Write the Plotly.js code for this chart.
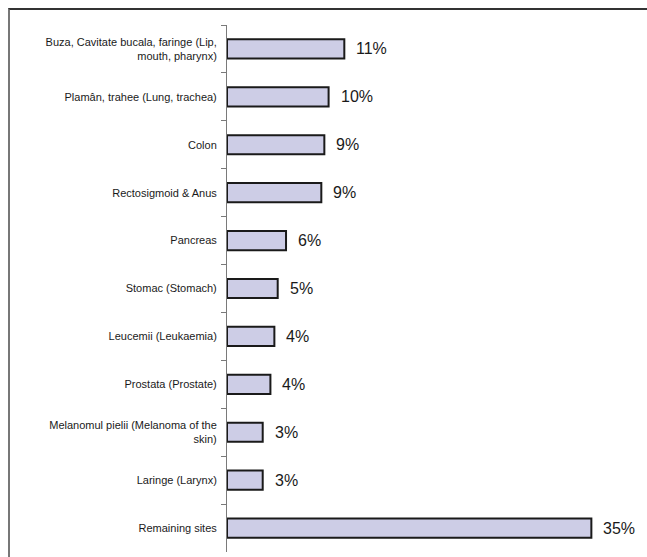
<!DOCTYPE html>
<html>
<head>
<meta charset="utf-8">
<script src="https://cdn.plot.ly/plotly-3.0.1.min.js"></script>
<style>
  html, body { margin: 0; padding: 0; background: #fff; }
  #wrap { position: relative; width: 647px; height: 557px; overflow: hidden; }
  #chart { position: absolute; left: 0; top: 0; width: 647px; height: 557px; }
  #frame { position: absolute; left: 8px; top: 8px; width: 660px; height: 600px;
           border-top: 2px solid #333; border-left: 2px solid #777; pointer-events: none; }
</style>
</head>
<body>
<div id="wrap">
  <div id="chart"></div>
  <div id="frame"></div>
</div>
<script>
const categories = [
  "Buza, Cavitate bucala, faringe (Lip,<br>mouth, pharynx)",
  "Plamân, trahee (Lung, trachea)",
  "Colon",
  "Rectosigmoid & Anus",
  "Pancreas",
  "Stomac (Stomach)",
  "Leucemii (Leukaemia)",
  "Prostata (Prostate)",
  "Melanomul pielii (Melanoma of the<br>skin)",
  "Laringe (Larynx)",
  "Remaining sites"
];
const values = [11.27, 9.76, 9.35, 9.06, 5.67, 4.87, 4.55, 4.17, 3.43, 3.43, 35];
const valueLabels = ["11%", "10%", "9%", "9%", "6%", "5%", "4%", "4%", "3%", "3%", "35%"];

const trace = {
  type: "bar",
  orientation: "h",
  x: values,
  y: categories,
  marker: { color: "#cdcde6", line: { color: "#1a1a1a", width: 2 } },
  width: 0.4,
  hoverinfo: "none"
};

const annotations = values.map((v, i) => ({
  x: v,
  y: categories[i],
  xref: "x",
  yref: "y",
  text: valueLabels[i],
  showarrow: false,
  xanchor: "left",
  yanchor: "middle",
  xshift: 10,
  font: { family: "Arial, Liberation Sans, sans-serif", size: 16, color: "#1a1a1a" }
}));

const layout = {
  width: 647,
  height: 557,
  margin: { l: 227, r: 14, t: 25, b: 5, pad: 0 },
  paper_bgcolor: "#ffffff",
  plot_bgcolor: "#ffffff",
  showlegend: false,
  annotations: annotations,
  xaxis: {
    range: [0, 39],
    showgrid: false,
    zeroline: false,
    showline: false,
    showticklabels: false,
    ticks: "",
    fixedrange: true
  },
  yaxis: {
    type: "category",
    autorange: "reversed",
    showgrid: false,
    zeroline: false,
    showline: true,
    linecolor: "#7a7a7a",
    linewidth: 1,
    ticks: "outside",
    tickson: "boundaries",
    ticklen: 5,
    tickwidth: 1,
    tickcolor: "#7a7a7a",
    ticklabelstandoff: 7,
    tickfont: { family: "Arial, Liberation Sans, sans-serif", size: 11, color: "#1a1a1a" },
    fixedrange: true
  },
  font: { family: "Arial, Liberation Sans, sans-serif" }
};

Plotly.newPlot("chart", [trace], layout, { displayModeBar: false, staticPlot: true });
</script>
</body>
</html>
